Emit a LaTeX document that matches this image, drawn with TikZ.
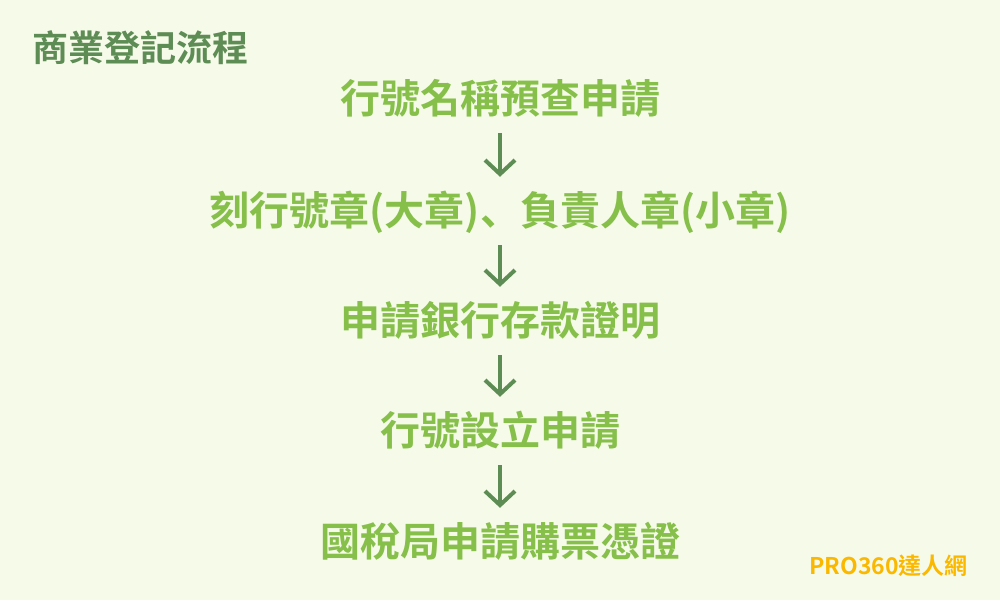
\documentclass[tikz,border=0pt]{standalone}
\usepackage{fontspec}
\setmainfont{Noto Sans CJK TC}[BoldFont={* Bold}]
\newfontfamily\cjkb{Noto Sans CJK TC Bold}
\newfontfamily\cjkjp{Noto Sans CJK JP Bold}
\usetikzlibrary{arrows.meta}
\definecolor{bgc}{HTML}{F6FBE9}
\definecolor{darkg}{HTML}{5E8C55}
\definecolor{lightg}{HTML}{86C04A}
\definecolor{orangec}{HTML}{FBB800}
\tikzset{
  stepbox/.style={inner sep=0pt, text height=35pt, text depth=5pt, font=\cjkb\fontsize{40}{40}\selectfont, text=lightg},
  arr/.style={draw=darkg, line width=4pt, -{Straight Barb[length=14pt,width=30pt,line width=4pt]}, shorten <=15pt, shorten >=13pt},
}
\begin{document}
\begin{tikzpicture}[x=1pt,y=-1pt]
\fill[bgc] (0,0) rectangle (1000,600);
\useasboundingbox (0,0) rectangle (1000,600);
\node[anchor=west, inner sep=0pt, font=\cjkb\fontsize{36}{36}\selectfont, text=darkg] (title) at (32,48) {商業登記流程};
\node[stepbox] (l1) at (500,98) {行號名稱預查申請};
\node[stepbox] (l2) at (500,210) {刻行號章(大章){\cjkjp 、}負責人章(小章)};
\node[stepbox] (l3) at (500,320) {申請銀行存款證明};
\node[stepbox] (l4) at (500,430) {行號設立申請};
\node[stepbox] (l5) at (500,541) {國稅局申請購票憑證};
\draw[arr] (l1) -- (l2);
\draw[arr] (l2) -- (l3);
\draw[arr] (l3) -- (l4);
\draw[arr] (l4) -- (l5);
\node[anchor=east, inner sep=0pt, font=\cjkb\fontsize{23}{23}\selectfont, text=orangec] (logo) at (968,566) {PRO360達人網};
\end{tikzpicture}
\end{document}
